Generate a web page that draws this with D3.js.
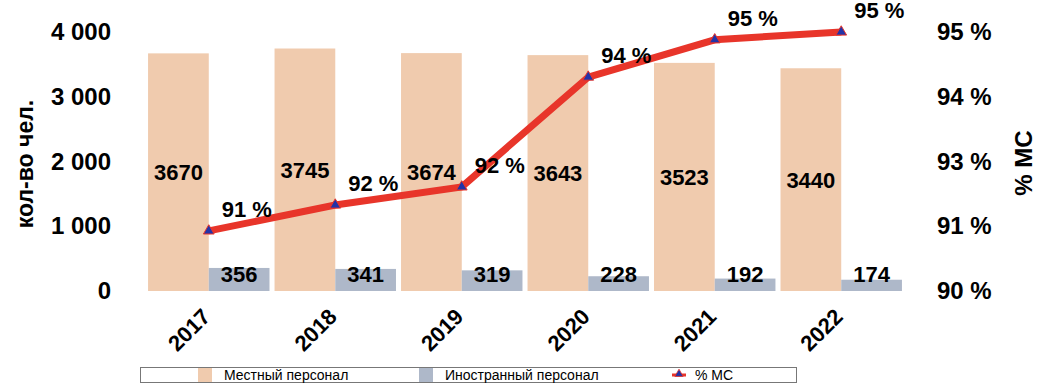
<!DOCTYPE html>
<html>
<head>
<meta charset="utf-8">
<style>
  body { margin: 0; background: #fff; }
  text { font-family: "Liberation Sans", Arial, sans-serif; }
</style>
</head>
<body>
<svg width="1041" height="390"></svg>
<script src="https://d3js.org/d3.v7.min.js"></script>
<script>
const years = ["2017", "2018", "2019", "2020", "2021", "2022"];
const local = [3670, 3745, 3674, 3643, 3523, 3440];
const foreign = [356, 341, 319, 228, 192, 174];
const shareMC = [0.9116, 0.9166, 0.9201, 0.9413, 0.9485, 0.9500];
const shareLabels = ["91 %", "92 %", "92 %", "94 %", "95 %", "95 %"];
const leftTicks = [0, 1000, 2000, 3000, 4000];
const rightTicks = [0.90, 0.9125, 0.925, 0.9375, 0.95];

const colLocal = "#f0cbae", colForeign = "#aeb8c9", colLine = "#e8352a", colMark = "#2233a8";

const svg = d3.select("svg");
const plotTop = 32, plotBottom = 291;

const x = d3.scaleBand().domain(years).range([143, 907]).paddingInner(0.04).paddingOuter(0.04);
const x1 = d3.scaleBand().domain(["local", "foreign"]).range([0, x.bandwidth()]);
const y = d3.scaleLinear().domain([0, 4000]).range([plotBottom, plotTop]);
const y2 = d3.scaleLinear().domain([0.90, 0.95]).range([plotBottom, plotTop]);

const fmt = d => d3.format(",")(d).replace(/,/g, " ");

// left axis
const yAxis = svg.append("g").attr("transform", "translate(111,0)")
    .call(d3.axisLeft(y).tickValues(leftTicks).tickSize(0).tickPadding(0).tickFormat(fmt));
yAxis.select(".domain").remove();
yAxis.selectAll("text").attr("font-size", 24).attr("font-weight", "bold").attr("fill", "#000")
    .attr("font-family", "Liberation Sans, Arial, sans-serif");

// right axis
const y2Axis = svg.append("g").attr("transform", "translate(937,0)")
    .call(d3.axisRight(y2).tickValues(rightTicks).tickSize(0).tickPadding(0)
        .tickFormat(d => Math.round(d * 100) + " %"));
y2Axis.select(".domain").remove();
y2Axis.selectAll("text").attr("font-size", 24).attr("font-weight", "bold").attr("fill", "#000")
    .attr("font-family", "Liberation Sans, Arial, sans-serif");

// axis titles
svg.append("text").attr("transform", "translate(33,164) rotate(-90)")
    .attr("text-anchor", "middle").attr("font-size", 23).attr("font-weight", "bold")
    .text("кол-во чел.");
svg.append("text").attr("transform", "translate(1032,163) rotate(-90)")
    .attr("text-anchor", "middle").attr("font-size", 24).attr("font-weight", "bold")
    .text("% МС");

// bars
const groups = svg.append("g").selectAll("g").data(years).join("g")
    .attr("transform", d => "translate(" + x(d) + ",0)");

groups.append("rect")
    .attr("x", x1("local")).attr("width", x1.bandwidth())
    .attr("y", (d, i) => y(local[i])).attr("height", (d, i) => y(0) - y(local[i]))
    .attr("fill", colLocal);
groups.append("rect")
    .attr("x", x1("foreign")).attr("width", x1.bandwidth())
    .attr("y", (d, i) => y(foreign[i])).attr("height", (d, i) => y(0) - y(foreign[i]))
    .attr("fill", colForeign);

groups.append("text")
    .attr("x", x1("local") + x1.bandwidth() / 2)
    .attr("y", (d, i) => (y(local[i]) + y(0)) / 2 + 8)
    .attr("text-anchor", "middle").attr("font-size", 22).attr("font-weight", "bold")
    .text((d, i) => local[i]);
groups.append("text")
    .attr("x", x1("foreign") + x1.bandwidth() / 2)
    .attr("y", y(0) - 9)
    .attr("text-anchor", "middle").attr("font-size", 22).attr("font-weight", "bold")
    .text((d, i) => foreign[i]);

// year labels
svg.append("g").selectAll("text").data(years).join("text")
    .attr("transform", d => "translate(" + (x(d) + x.bandwidth() / 2 + 3) + "," + 318 + ") rotate(-45)")
    .attr("text-anchor", "end").attr("font-size", 22).attr("font-weight", "bold")
    .text(d => d);

// line
const cx = d => x(d) + x.bandwidth() / 2;
const line = d3.line().x((d, i) => cx(years[i])).y(d => y2(d));
svg.append("path").datum(shareMC).attr("d", line)
    .attr("fill", "none").attr("stroke", colLine).attr("stroke-width", 7);

const tri = d3.symbol().type(d3.symbolTriangle).size(50);
svg.append("g").selectAll("path").data(shareMC).join("path")
    .attr("d", tri)
    .attr("transform", (d, i) => "translate(" + cx(years[i]) + "," + y2(d) + ")")
    .attr("fill", colMark).attr("stroke", colLine).attr("stroke-width", 1);

svg.append("g").selectAll("text").data(shareMC).join("text")
    .attr("x", (d, i) => cx(years[i]) + 38)
    .attr("y", d => y2(d) - 14)
    .attr("text-anchor", "middle").attr("font-size", 22).attr("font-weight", "bold")
    .text((d, i) => shareLabels[i]);

// legend
const lg = svg.append("g");
lg.append("rect").attr("x", 140.5).attr("y", 367.5).attr("width", 656).attr("height", 15)
    .attr("fill", "#fff").attr("stroke", "#777");
lg.append("rect").attr("x", 198).attr("y", 368).attr("width", 14).attr("height", 14).attr("fill", colLocal);
lg.append("text").attr("x", 224).attr("y", 380).attr("font-size", 14).text("Местный персонал");
lg.append("rect").attr("x", 419).attr("y", 368).attr("width", 14).attr("height", 14).attr("fill", colForeign);
lg.append("text").attr("x", 445).attr("y", 380).attr("font-size", 14).text("Иностранный персонал");
lg.append("line").attr("x1", 672).attr("x2", 686).attr("y1", 375).attr("y2", 375)
    .attr("stroke", colLine).attr("stroke-width", 3);
lg.append("path").attr("d", d3.symbol().type(d3.symbolTriangle).size(30))
    .attr("transform", "translate(679,374)").attr("fill", colMark).attr("stroke", colLine).attr("stroke-width", 0.8);
lg.append("text").attr("x", 695).attr("y", 380).attr("font-size", 14).text("% МС");
</script>
</body>
</html>
